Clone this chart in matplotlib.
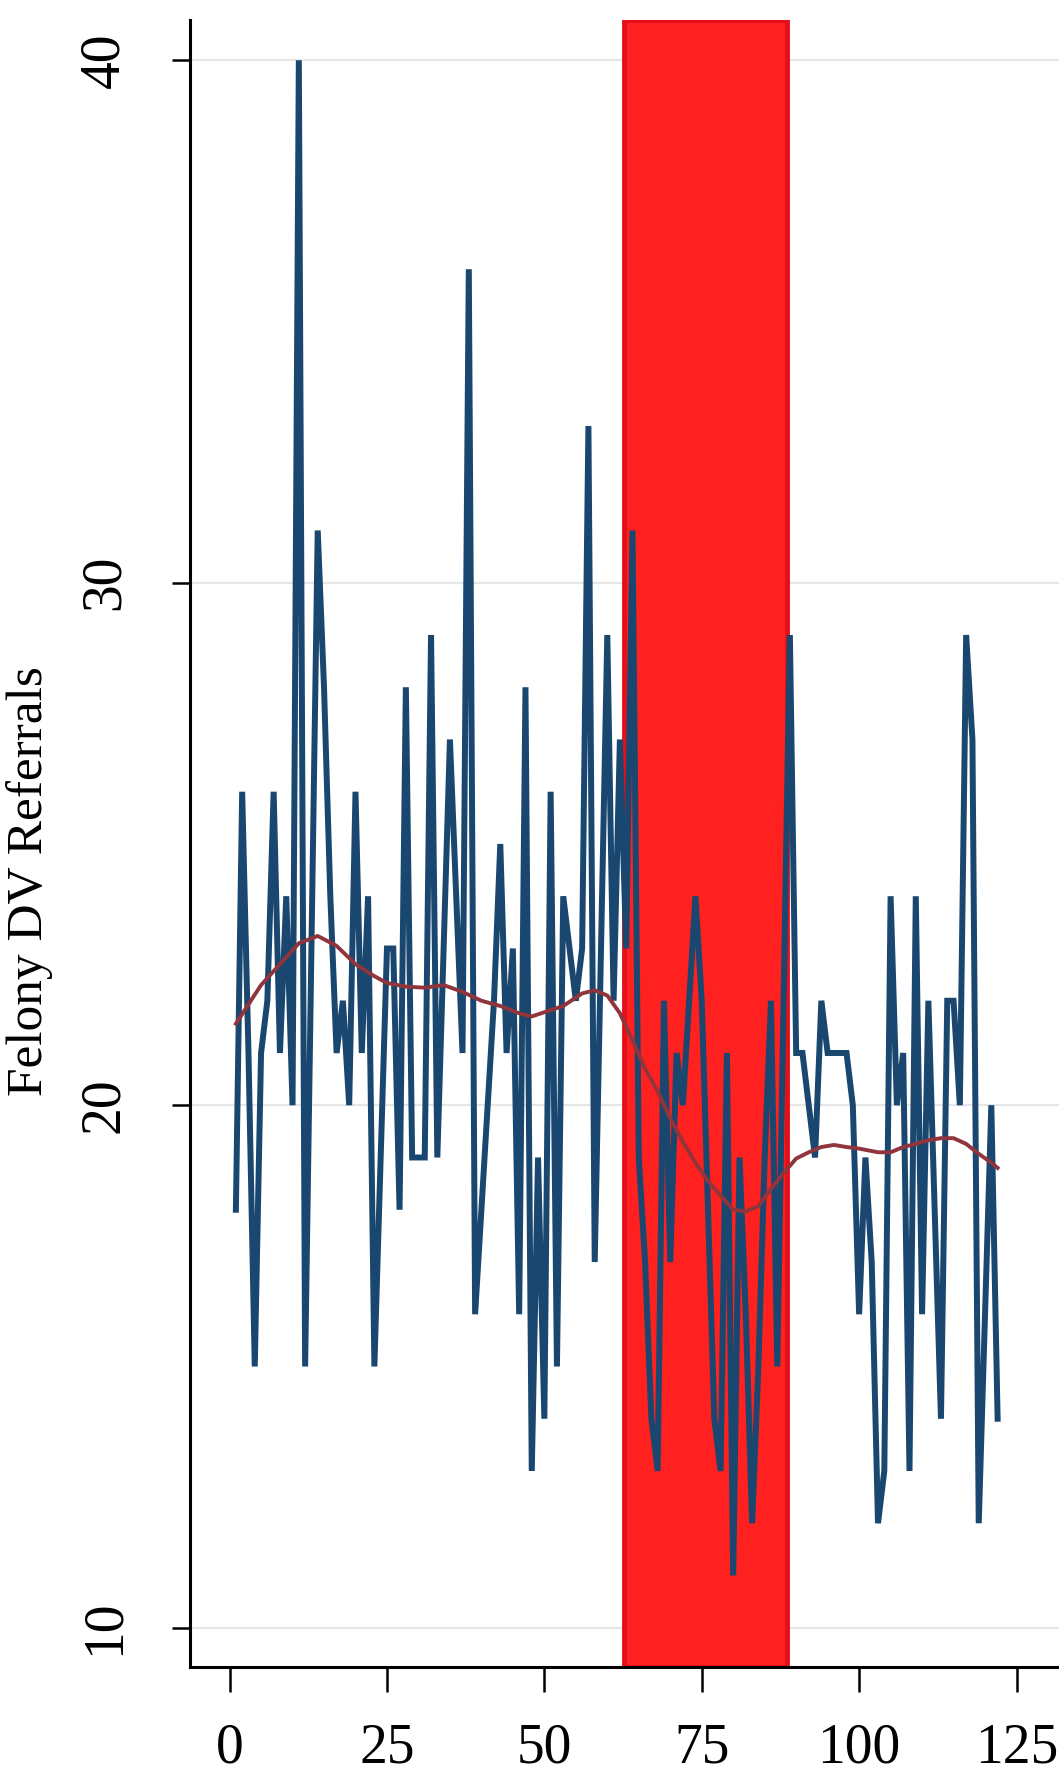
import matplotlib
matplotlib.use("Agg")
import matplotlib.pyplot as plt

# weekly felony DV referrals
weeks = list(range(1, 123))
referrals = [18, 26, 21, 15, 21, 22, 26, 21, 24, 20,
             40, 15, 23, 31, 28, 24, 21, 22, 20, 26,
             21, 24, 15, 19, 23, 23, 18, 28, 19, 19,
             19, 29, 19, 23, 27, 24, 21, 36, 16, 18,
             20, 22, 25, 21, 23, 16, 28, 13, 19, 14,
             26, 15, 24, 23, 22, 23, 33, 17, 23, 29,
             22, 27, 23, 31, 19, 17, 14, 13, 22, 17,
             21, 20, 22, 24, 22, 18, 14, 13, 21, 11,
             19, 16, 12, 15, 19, 22, 15, 22, 29, 21,
             21, 20, 19, 22, 21, 21, 21, 21, 20, 16,
             19, 17, 12, 13, 24, 20, 21, 13, 24, 16,
             22, 18, 14, 22, 22, 20, 29, 27, 12, 16,
             20, 14]

# smoothed trend
smooth_x = [1, 5, 8, 11, 14, 17, 20, 23, 25, 28, 31, 34, 37, 40, 43, 46, 48,
            50, 53, 56, 58, 60, 62, 64, 66, 68, 70, 72, 74, 76, 78, 80, 82,
            84, 86, 88, 90, 92, 94, 96, 98, 100, 103, 105, 107, 109, 111,
            113, 115, 117, 119, 121, 122]
smooth_y = [21.56, 22.3, 22.7, 23.1, 23.24, 23.05, 22.7, 22.47, 22.34, 22.27,
            22.25, 22.3, 22.17, 22.0, 21.9, 21.76, 21.7, 21.78, 21.9, 22.14,
            22.2, 22.1, 21.76, 21.24, 20.7, 20.27, 19.75, 19.3, 18.9, 18.55,
            18.27, 18.0, 17.97, 18.07, 18.4, 18.7, 18.98, 19.1, 19.2, 19.24,
            19.2, 19.17, 19.1, 19.1, 19.2, 19.26, 19.33, 19.37, 19.37, 19.26,
            19.07, 18.9, 18.8]

# shaded period
band = (62.6, 88.6)

plt.rcParams['font.family'] = ['Liberation Serif', 'DejaVu Serif']

fig = plt.figure(figsize=(10.59, 17.72), dpi=100)
ax = fig.add_axes([0.1794, 0.0593, 0.8206, 0.9294])

ax.axvspan(band[0], band[1], facecolor='#ff2020', edgecolor='#e3101a',
           linewidth=3.5, zorder=2)
ax.plot(weeks, referrals, color='#1a476f', linewidth=4.3, zorder=3,
        solid_joinstyle='miter')
ax.plot(smooth_x, smooth_y, color='#90353b', linewidth=2.8, zorder=4)

ax.set_xlim(-6.29, 131.75)
ax.set_ylim(9.25, 40.77)
ax.set_xticks([0, 25, 50, 75, 100, 125])
ax.set_yticks([10, 20, 30, 40])

ax.grid(axis='y', color='#e6e6e6', linewidth=1.6, zorder=0)
ax.set_axisbelow(True)

for s in ['top', 'right']:
    ax.spines[s].set_visible(False)
for s in ['left', 'bottom']:
    ax.spines[s].set_linewidth(2.2)
    ax.spines[s].set_color('black')

ax.tick_params(axis='x', length=18, width=1.8, labelsize=40, pad=22)
ax.tick_params(axis='y', length=13, width=1.8, labelsize=40, pad=30,
               labelrotation=90)
for lab in ax.get_yticklabels():
    lab.set_verticalalignment('center')

ax.set_ylabel('Felony DV Referrals', fontsize=37)
ax.yaxis.set_label_coords(-0.158, 0.477)

fig.savefig('out.png', dpi=100)
